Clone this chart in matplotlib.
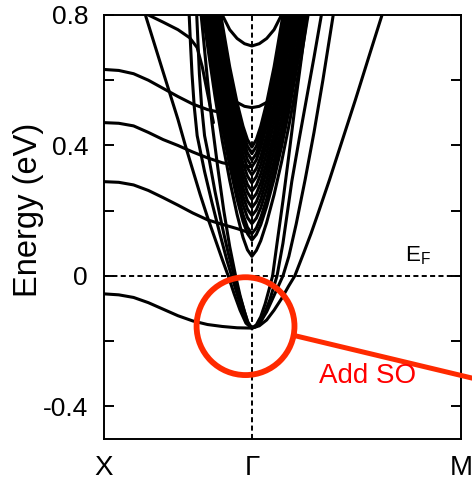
import numpy as np
import matplotlib.pyplot as plt
from matplotlib.patches import Ellipse
from matplotlib.ticker import FixedLocator

plt.rcParams['font.family'] = ['Liberation Sans', 'DejaVu Sans']
plt.rcParams['mathtext.default'] = 'regular'

# k path: X -> Gamma -> M (|Gamma-M| = sqrt(2) |X-Gamma|)
k_X, k_G, k_M = 0.0, 1.0, 2.414
path_labels = ['X', 'Γ', 'M']

# flat bands starting at X (eV)
flat_k = [0.0, 0.1, 0.2, 0.3, 0.4, 0.5, 0.6, 0.7, 0.8, 0.9, 1.0]
flat_b2 = [0.470, 0.468, 0.460, 0.440, 0.418, 0.400, 0.380, 0.362, 0.347, 0.338, 0.335]
flat_b3 = [0.289, 0.287, 0.279, 0.262, 0.240, 0.217, 0.193, 0.172, 0.158, 0.145, 0.130]
flat_b4 = [-0.055, -0.058, -0.066, -0.082, -0.102, -0.122, -0.138, -0.149, -0.155, -0.159, -0.160]
flat_b1_k = [0.0, 0.1, 0.2, 0.3, 0.4, 0.5, 0.6, 0.7, 0.8]
flat_b1 = [0.633, 0.630, 0.620, 0.600, 0.575, 0.550, 0.527, 0.510, 0.500]
top_b5_k = [0.22, 0.30, 0.40, 0.50, 0.58, 0.63, 0.665, 0.70, 0.74]
top_b5 = [0.83, 0.80, 0.778, 0.755, 0.73, 0.70, 0.64, 0.56, 0.47]

# outer subbands, bottom at -0.16 eV (k measured from Gamma)
a1_dk = [-0.80, -0.72, -0.60, -0.50, -0.45, -0.40, -0.35, -0.30, -0.25, -0.20, -0.16, -0.12, -0.08, -0.04, 0.0,
         0.05, 0.10, 0.15, 0.20, 0.25, 0.29, 0.35, 0.40, 0.45, 0.525, 0.60, 0.70, 0.80, 0.88, 0.95]
a1_E = [0.92, 0.80, 0.625, 0.48, 0.40, 0.325, 0.25, 0.18, 0.115, 0.05, 0.0, -0.055, -0.105, -0.145, -0.16,
        -0.153, -0.135, -0.105, -0.07, -0.03, 0.0, 0.07, 0.13, 0.195, 0.295, 0.40, 0.54, 0.685, 0.80, 0.90]
a2_dk = [-0.425, -0.415, -0.405, -0.39, -0.37, -0.32, -0.27, -0.22, -0.17, -0.137, -0.09, -0.06, -0.03, 0.0,
         0.03, 0.06, 0.10, 0.14, 0.18, 0.21, 0.25, 0.30, 0.36, 0.42, 0.48, 0.55, 0.60]
a2_E = [0.81, 0.71, 0.62, 0.52, 0.43, 0.32, 0.225, 0.135, 0.05, 0.0, -0.07, -0.11, -0.145, -0.16,
        -0.155, -0.14, -0.11, -0.07, -0.03, 0.0, 0.06, 0.16, 0.295, 0.44, 0.60, 0.80, 0.94]
a3_dk = [-0.375, -0.365, -0.355, -0.34, -0.32, -0.30, -0.25, -0.20, -0.16, -0.12, -0.09, -0.06, -0.03, 0.0,
         0.03, 0.06, 0.09, 0.12, 0.15, 0.17, 0.21, 0.24, 0.27, 0.32, 0.37, 0.42, 0.47, 0.52]
a3_E = [0.82, 0.72, 0.62, 0.52, 0.43, 0.385, 0.26, 0.15, 0.07, 0.0, -0.05, -0.095, -0.14, -0.16,
        -0.155, -0.14, -0.11, -0.075, -0.03, 0.0, 0.10, 0.195, 0.29, 0.42, 0.545, 0.67, 0.80, 0.93]
a4_dk = [-0.35, -0.33, -0.30, -0.27, -0.23, -0.19, -0.15, -0.11, -0.08, -0.05, -0.025, 0.0,
         0.03, 0.06, 0.09, 0.12, 0.14, 0.17, 0.21, 0.25, 0.30, 0.35, 0.38]
a4_E = [0.83, 0.74, 0.60, 0.47, 0.33, 0.20, 0.09, 0.0, -0.06, -0.11, -0.145, -0.16,
        -0.15, -0.125, -0.085, -0.035, 0.0, 0.10, 0.23, 0.37, 0.55, 0.72, 0.82]

# narrow quantum-well subbands near Gamma
fan_dk = [-0.36, -0.30, -0.25, -0.20, -0.15, -0.10, -0.06, -0.03, 0.0,
          0.03, 0.06, 0.10, 0.15, 0.20, 0.25, 0.30, 0.36, 0.42]
sub1 = [0.89, 0.706, 0.552, 0.413, 0.293, 0.188, 0.118, 0.080, 0.060, 0.078, 0.108, 0.164, 0.249, 0.348, 0.460, 0.582, 0.745, 0.909]
sub2 = [0.92, 0.74, 0.59, 0.455, 0.338, 0.235, 0.167, 0.13, 0.11, 0.127, 0.157, 0.213, 0.297, 0.395, 0.505, 0.628, 0.786, 0.945]
sub3 = [0.95, 0.77, 0.618, 0.481, 0.36, 0.258, 0.188, 0.149, 0.13, 0.147, 0.179, 0.236, 0.324, 0.423, 0.537, 0.666, 0.827, 0.99]
sub4 = [0.98, 0.80, 0.65, 0.512, 0.39, 0.288, 0.218, 0.179, 0.16, 0.177, 0.209, 0.266, 0.352, 0.452, 0.567, 0.694, 0.853, 1.01]
sub5 = [1.01, 0.83, 0.681, 0.54, 0.418, 0.314, 0.244, 0.205, 0.185, 0.202, 0.235, 0.294, 0.383, 0.485, 0.603, 0.734, 0.893, 1.05]
sub6 = [1.04, 0.859, 0.712, 0.569, 0.446, 0.34, 0.27, 0.23, 0.21, 0.227, 0.261, 0.322, 0.413, 0.519, 0.64, 0.773, 0.933, 1.09]
sub7 = [1.06, 0.888, 0.741, 0.598, 0.472, 0.367, 0.296, 0.256, 0.235, 0.252, 0.286, 0.348, 0.438, 0.546, 0.668, 0.80, 0.958, 1.12]
sub8 = [1.07, 0.90, 0.757, 0.617, 0.493, 0.389, 0.32, 0.28, 0.26, 0.278, 0.313, 0.377, 0.47, 0.58, 0.707, 0.84, 1.0, 1.17]
sub9 = [1.10, 0.927, 0.786, 0.646, 0.52, 0.415, 0.345, 0.306, 0.285, 0.304, 0.341, 0.405, 0.501, 0.616, 0.746, 0.88, 1.04, 1.2]
sub10 = [1.12, 0.954, 0.814, 0.674, 0.547, 0.441, 0.372, 0.331, 0.31, 0.329, 0.366, 0.431, 0.528, 0.643, 0.774, 0.906, 1.08, 1.24]
sub11 = [1.15, 0.98, 0.842, 0.703, 0.575, 0.468, 0.397, 0.356, 0.335, 0.355, 0.394, 0.46, 0.56, 0.68, 0.813, 0.946, 1.11, 1.27]
sub12 = [1.17, 1.008, 0.869, 0.731, 0.60, 0.49, 0.419, 0.377, 0.355, 0.375, 0.415, 0.482, 0.585, 0.707, 0.84, 0.973, 1.14, 1.3]
sub13 = [1.2, 1.035, 0.897, 0.758, 0.625, 0.513, 0.44, 0.398, 0.375, 0.397, 0.438, 0.509, 0.616, 0.746, 0.881, 1.017, 1.2, 1.35]
sub14 = [1.22, 1.043, 0.908, 0.773, 0.641, 0.531, 0.459, 0.418, 0.395, 0.418, 0.459, 0.531, 0.641, 0.773, 0.908, 1.043, 1.22, 1.4]

# upper bowls at Gamma
d1_dk = [-0.28, -0.24, -0.20, -0.15, -0.10, -0.05, 0.0, 0.05, 0.10, 0.15, 0.19, 0.23, 0.27, 0.31]
d1_E = [0.86, 0.74, 0.64, 0.557, 0.532, 0.52, 0.516, 0.52, 0.532, 0.557, 0.62, 0.70, 0.79, 0.88]
d2_dk = [-0.24, -0.20, -0.15, -0.10, -0.05, 0.0, 0.05, 0.10, 0.15, 0.20, 0.24]
d2_E = [0.88, 0.80, 0.755, 0.728, 0.712, 0.705, 0.712, 0.728, 0.755, 0.80, 0.88]

fig = plt.figure(figsize=(4.72, 4.80), dpi=100)
ax = fig.add_axes([104 / 472, 41 / 480, 357 / 472, 424 / 480])

band_kw = dict(color='black', lw=2.2, solid_capstyle='round', zorder=3)

for E in (flat_b2, flat_b3, flat_b4):
    ax.plot(flat_k, E, **band_kw)
ax.plot(flat_b1_k, flat_b1, **band_kw)
ax.plot(top_b5_k, top_b5, **band_kw)

for dk, E in ((a1_dk, a1_E), (a2_dk, a2_E), (a3_dk, a3_E), (a4_dk, a4_E),
              (d1_dk, d1_E), (d2_dk, d2_E)):
    ax.plot(k_G + np.array(dk), E, **band_kw)

subbands = [sub1, sub2, sub3, sub4, sub5, sub6, sub7, sub8, sub9, sub10, sub11, sub12, sub13, sub14]
for E in subbands:
    ax.plot(k_G + np.array(fan_dk), E, **band_kw)

# Fermi level and Gamma line
dash_kw = dict(color='black', lw=1.4, dashes=(2.6, 1.7), zorder=2)
ax.axhline(0.0, **dash_kw)
ax.axvline(k_G, **dash_kw)
ax.text(2.035, 0.043, 'E$_{F}$', fontsize=16, ha='left', va='baseline')

# spin-orbit annotation
red = '#ff2a00'
ax.add_patch(Ellipse((0.957, -0.154), 0.662, 0.300, fill=False, ec=red, lw=4.2, zorder=6))
ax.plot([1.298, 2.542], [-0.184, -0.319], color=red, lw=3.6, clip_on=False, zorder=6)
ax.text(1.785, -0.328, 'Add SO', color='#ff0000', fontsize=20, ha='center', va='baseline', zorder=6)

ax.set_xlim(k_X, k_M)
ax.set_ylim(-0.5, 0.8)
ax.set_xticks([k_X, k_G, k_M])
ax.set_xticklabels(path_labels, fontsize=20)
ax.tick_params(axis='x', length=0, pad=11.5)

ax.yaxis.set_major_locator(FixedLocator([-0.4, 0.0, 0.4, 0.8]))
ax.yaxis.set_minor_locator(FixedLocator([-0.2, 0.2, 0.6]))
ax.set_yticklabels(['-0.4', '0', '0.4', '0.8'], fontsize=19)
ax.tick_params(axis='y', which='both', direction='in', left=True, right=True,
               length=7.2, width=1.4, pad=11.5)

for sp in ax.spines.values():
    sp.set_linewidth(1.4)

ax.set_ylabel('Energy (eV)', fontsize=23.5)
ax.yaxis.set_label_coords(-0.168, 0.54)

fig.savefig('out.png', dpi=100)
